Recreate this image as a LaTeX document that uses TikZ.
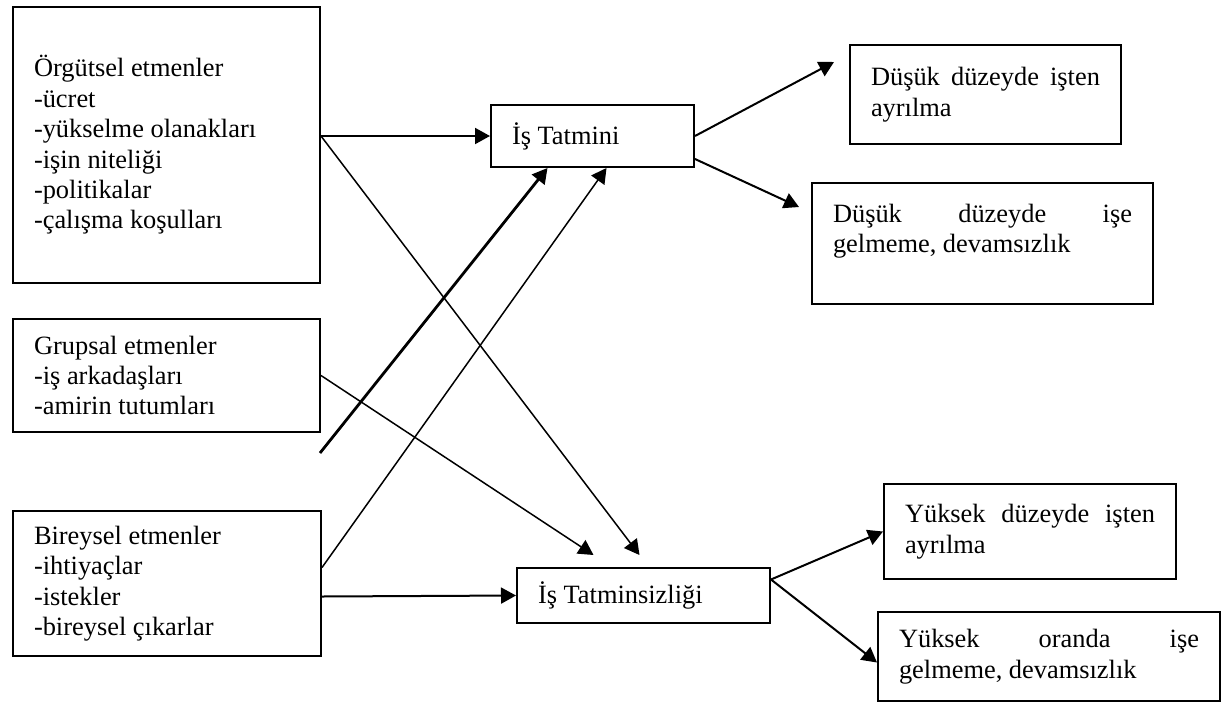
\documentclass[tikz,border=0pt]{standalone}
\usepackage{fontspec}
\setmainfont{Liberation Serif}
\usetikzlibrary{arrows.meta,calc}
\newcommand{\fullline}[1]{\makebox[\hsize][s]{#1}}
\tikzset{
  factorbox/.style={draw, line width=1pt, anchor=north west, align=flush left, inner xsep=10.5pt, inner ysep=0pt, font=\setlength{\parindent}{0pt}\fontsize{13.2}{15.2}\selectfont},
  link/.style={-{Triangle[length=7.5pt, width=8pt]}, line width=1pt},
  thinlink/.style={link, line width=0.75pt},
}

\begin{document}
\begin{tikzpicture}[x=0.5pt, y=-0.5pt]
    \useasboundingbox (0,0) rectangle (1221,713);
    % factors
    \node[factorbox, text width=132.5pt, minimum height=138pt] (org) at (12,6) {Örgütsel etmenler\\-ücret\\-yükselme olanakları\\-işin niteliği\\-politikalar\\-çalışma koşulları};
    \node[factorbox, text width=132.5pt, minimum height=56.5pt] (grup) at (12,318) {Grupsal etmenler\\-iş arkadaşları\\-amirin tutumları};
    \node[factorbox, text width=133pt, minimum height=72.5pt] (bir) at (12,510) {Bireysel etmenler\\-ihtiyaçlar\\-istekler\\-bireysel çıkarlar};
    % satisfaction
    \node[factorbox, text width=80.5pt, minimum height=31pt] (tatmin) at (490,104) {İş Tatmini};
    \node[factorbox, text width=105.5pt, minimum height=27.5pt] (tatminsiz) at (516,567) {İş Tatminsizliği};
    % outcomes
    \node[factorbox, text width=114.5pt, minimum height=49.5pt] (dusuk1) at (849,44) {\fullline{Düşük \hfill düzeyde \hfill işten}\\ayrılma};
    \node[factorbox, text width=149.5pt, minimum height=60.5pt] (dusuk2) at (811,182) {\fullline{Düşük \hfill düzeyde \hfill işe}\\gelmeme, devamsızlık\\~};
    \node[factorbox, text width=125pt, minimum height=47.5pt] (yuksek1) at (883,483) {\fullline{Yüksek \hfill düzeyde \hfill işten}\\ayrılma};
    \node[factorbox, text width=150pt, minimum height=44.5pt] (yuksek2) at (877,611) {\fullline{Yüksek \hfill oranda \hfill işe}\\gelmeme, devamsızlık};
    \coordinate (loose) at (320,453);
    \draw[link] (org.east |- tatmin.west) -- (tatmin.west);
    \draw[thinlink] (org.east |- tatmin.west) -- ($(tatminsiz.north)+(-4,-12)$);
    \draw[thinlink] (grup.east) -- ($(tatminsiz.north)+(-50,-12)$);
    \draw[link, line width=1.4pt] (loose) -- ($(tatmin.south)+(-45,0)$);
    \draw[thinlink] ($(bir.east)+(0,-16)$) -- ($(tatmin.south)+(14,0)$);
    \draw[link] ($(bir.east)+(0,13)$) -- (tatminsiz.west);
    \draw[link] (tatmin.east) -- ($(dusuk1.north west)+(-15,18)$);
    \draw[link] ($(tatmin.south east)+(0,-9)$) -- ($(dusuk2.north west)+(-12,25)$);
    \draw[link] ($(tatminsiz.east)+(0,-16)$) -- (yuksek1.west);
    \draw[link] ($(tatminsiz.east)+(0,-16)$) -- ($(yuksek2.west)+(0,6)$);
\end{tikzpicture}
\end{document}
